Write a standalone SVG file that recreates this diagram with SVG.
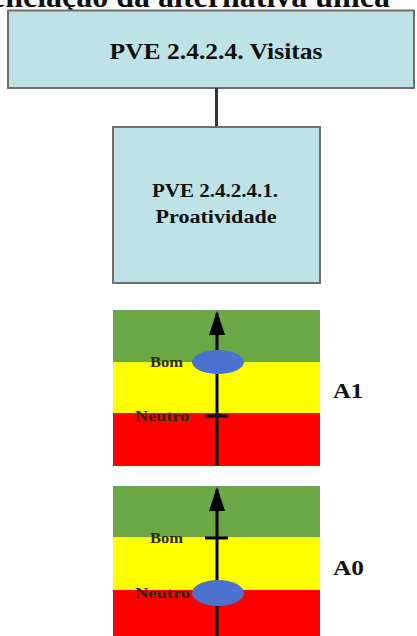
<svg xmlns="http://www.w3.org/2000/svg" width="417" height="636" viewBox="0 0 417 636">
<style>
.t{font-family:"Liberation Serif","Times New Roman",serif;font-weight:bold;fill:#111}
.box{fill:#bfe2e6;stroke:#6e6e6e;stroke-width:2}
.lbl{font-family:"Liberation Serif","Times New Roman",serif;font-weight:bold;font-size:14px;fill:#2a2a10}
.axis{stroke:#000;stroke-width:3}
.ell{fill:#4b72cf}
</style>
<defs>
<marker id="ah" viewBox="0 0 24 16" refX="22" refY="8" markerWidth="24" markerHeight="16" markerUnits="userSpaceOnUse" orient="auto">
<path d="M0,0 L24,8 L0,16 Z" fill="#000"/>
</marker>
</defs>
<rect width="417" height="636" fill="#fff"/>
<text class="t" x="-9" y="7" font-size="31" textLength="399" lengthAdjust="spacingAndGlyphs">enciação da alternativa única</text>

<g id="node-visitas">
<rect class="box" x="8" y="10.5" width="406" height="77.5"/>
<text class="t" x="216" y="59" font-size="23" text-anchor="middle" textLength="213" lengthAdjust="spacingAndGlyphs">PVE 2.4.2.4. Visitas</text>
</g>

<g id="connectors">
<line x1="216.5" y1="88" x2="216.5" y2="127" stroke="#333" stroke-width="3"/>
</g>

<g id="node-proatividade">
<rect class="box" x="113" y="127" width="207" height="156"/>
<text class="t" x="215" y="197" font-size="18" text-anchor="middle" textLength="126" lengthAdjust="spacingAndGlyphs">PVE 2.4.2.4.1.</text>
<text class="t" x="216" y="223" font-size="18" text-anchor="middle" textLength="121" lengthAdjust="spacingAndGlyphs">Proatividade</text>
</g>

<g id="scale-a1">
<rect x="113" y="310" width="207" height="52" fill="#6aa845"/>
<rect x="113" y="362" width="207" height="51" fill="#ffff00"/>
<rect x="113" y="413" width="207" height="53" fill="#ff0000"/>
<line class="axis" x1="217" y1="466" x2="217" y2="313" marker-end="url(#ah)"/>
<line class="axis" x1="205" y1="416" x2="228" y2="416"/>
<ellipse class="ell" cx="218" cy="362" rx="26" ry="12"/>
<text class="lbl" x="150" y="367" textLength="33" lengthAdjust="spacingAndGlyphs">Bom</text>
<text class="lbl" x="135" y="421" textLength="54" lengthAdjust="spacingAndGlyphs">Neutro</text>
<text class="t" x="333" y="398" font-size="22" textLength="30" lengthAdjust="spacingAndGlyphs">A1</text>
</g>

<g id="scale-a0">
<rect x="113" y="486" width="207" height="51" fill="#6aa845"/>
<rect x="113" y="537" width="207" height="53" fill="#ffff00"/>
<rect x="113" y="590" width="207" height="46" fill="#ff0000"/>
<line class="axis" x1="217" y1="636" x2="217" y2="489" marker-end="url(#ah)"/>
<line class="axis" x1="205" y1="538" x2="228" y2="538"/>
<ellipse class="ell" cx="218" cy="593" rx="26" ry="13"/>
<text class="lbl" x="150" y="543" textLength="33" lengthAdjust="spacingAndGlyphs">Bom</text>
<text class="lbl" x="135" y="598" textLength="55" lengthAdjust="spacingAndGlyphs">Neutro</text>
<text class="t" x="333" y="575" font-size="22" textLength="31" lengthAdjust="spacingAndGlyphs">A0</text>
</g>
</svg>
